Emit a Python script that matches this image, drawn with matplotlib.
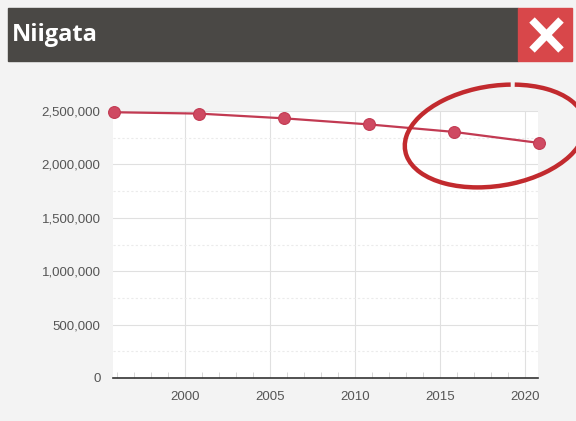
import matplotlib.pyplot as plt
from matplotlib.patches import Rectangle, Arc
from matplotlib.lines import Line2D
from matplotlib.ticker import MultipleLocator, FuncFormatter

# census dates (Oct 1 of each year) and population of Niigata
years = [1995.8, 2000.8, 2005.8, 2010.8, 2015.8, 2020.8]
population = [2488364, 2475733, 2431459, 2374450, 2304264, 2201272]
title = "Niigata"

bg = "#f3f3f3"
line_col = "#c23a52"
plt.rcParams["font.family"] = ["Liberation Sans", "DejaVu Sans"]

fig = plt.figure(figsize=(5.76, 4.21), dpi=100)
fig.patch.set_facecolor(bg)

W, H = 576, 421
ax = fig.add_axes([113 / W, (H - 378) / H, (538 - 113) / W, (378 - 111) / H])
ax.set_facecolor("white")

ax.plot(years, population, "-", color=line_col, lw=1.6, zorder=3)
ax.plot(years, population, "o", color="#cf4a62", ms=8.5, mec="#c23a52", mew=0.8,
        zorder=4, clip_on=False)

ax.set_xlim(1995.75, 2020.75)
ax.set_ylim(0, 2500000)

ax.xaxis.set_major_locator(MultipleLocator(5))
ax.xaxis.set_minor_locator(MultipleLocator(1))
ax.yaxis.set_major_locator(MultipleLocator(500000))
ax.yaxis.set_minor_locator(MultipleLocator(250000))
ax.yaxis.set_major_formatter(FuncFormatter(lambda v, p: f"{int(v):,}"))

ax.grid(which="major", color="#e0e0e0", lw=0.8)
ax.grid(which="minor", axis="y", color="#ebebeb", lw=0.8, ls=(0, (2, 2)))

for s in ["top", "right", "left"]:
    ax.spines[s].set_visible(False)
ax.spines["bottom"].set_color("#333333")
ax.spines["bottom"].set_linewidth(1.2)

ax.tick_params(axis="y", which="both", length=0)
ax.tick_params(axis="y", pad=9, labelsize=9.5, labelcolor="#555555")
ax.tick_params(axis="x", which="major", length=0, pad=9, labelsize=9.5, labelcolor="#555555")
ax.tick_params(axis="x", which="minor", direction="in", length=4, color="#d0d0d0")

# header bar with title and close box
fig.patches.append(Rectangle((8 / W, (H - 61) / H), (518 - 8) / W, 53 / H,
                             transform=fig.transFigure, color="#4a4845", zorder=0))
fig.patches.append(Rectangle((518 / W, (H - 61) / H), (572 - 518) / W, 53 / H,
                             transform=fig.transFigure, color="#d8474a", zorder=0))
fig.text(12 / W, (H - 35) / H, title, color="white", fontsize=17, fontweight="bold",
         va="center", ha="left", family=["Open Sans", "DejaVu Sans"])
for xs, ys in [((532, 561), (20, 50)), ((532, 561), (50, 20))]:
    fig.lines.append(Line2D([x / W for x in xs], [(H - y) / H for y in ys],
                            transform=fig.transFigure, color="white", lw=5.5,
                            solid_capstyle="butt"))

# hand-drawn circle annotation
circle = Arc((495, H - 136), 182, 100, angle=9, theta1=64, theta2=420,
             transform=None, color="#c22a2e", lw=3.2, zorder=5)
fig.patches.append(circle)

fig.savefig("out.png", dpi=100, facecolor=bg)
